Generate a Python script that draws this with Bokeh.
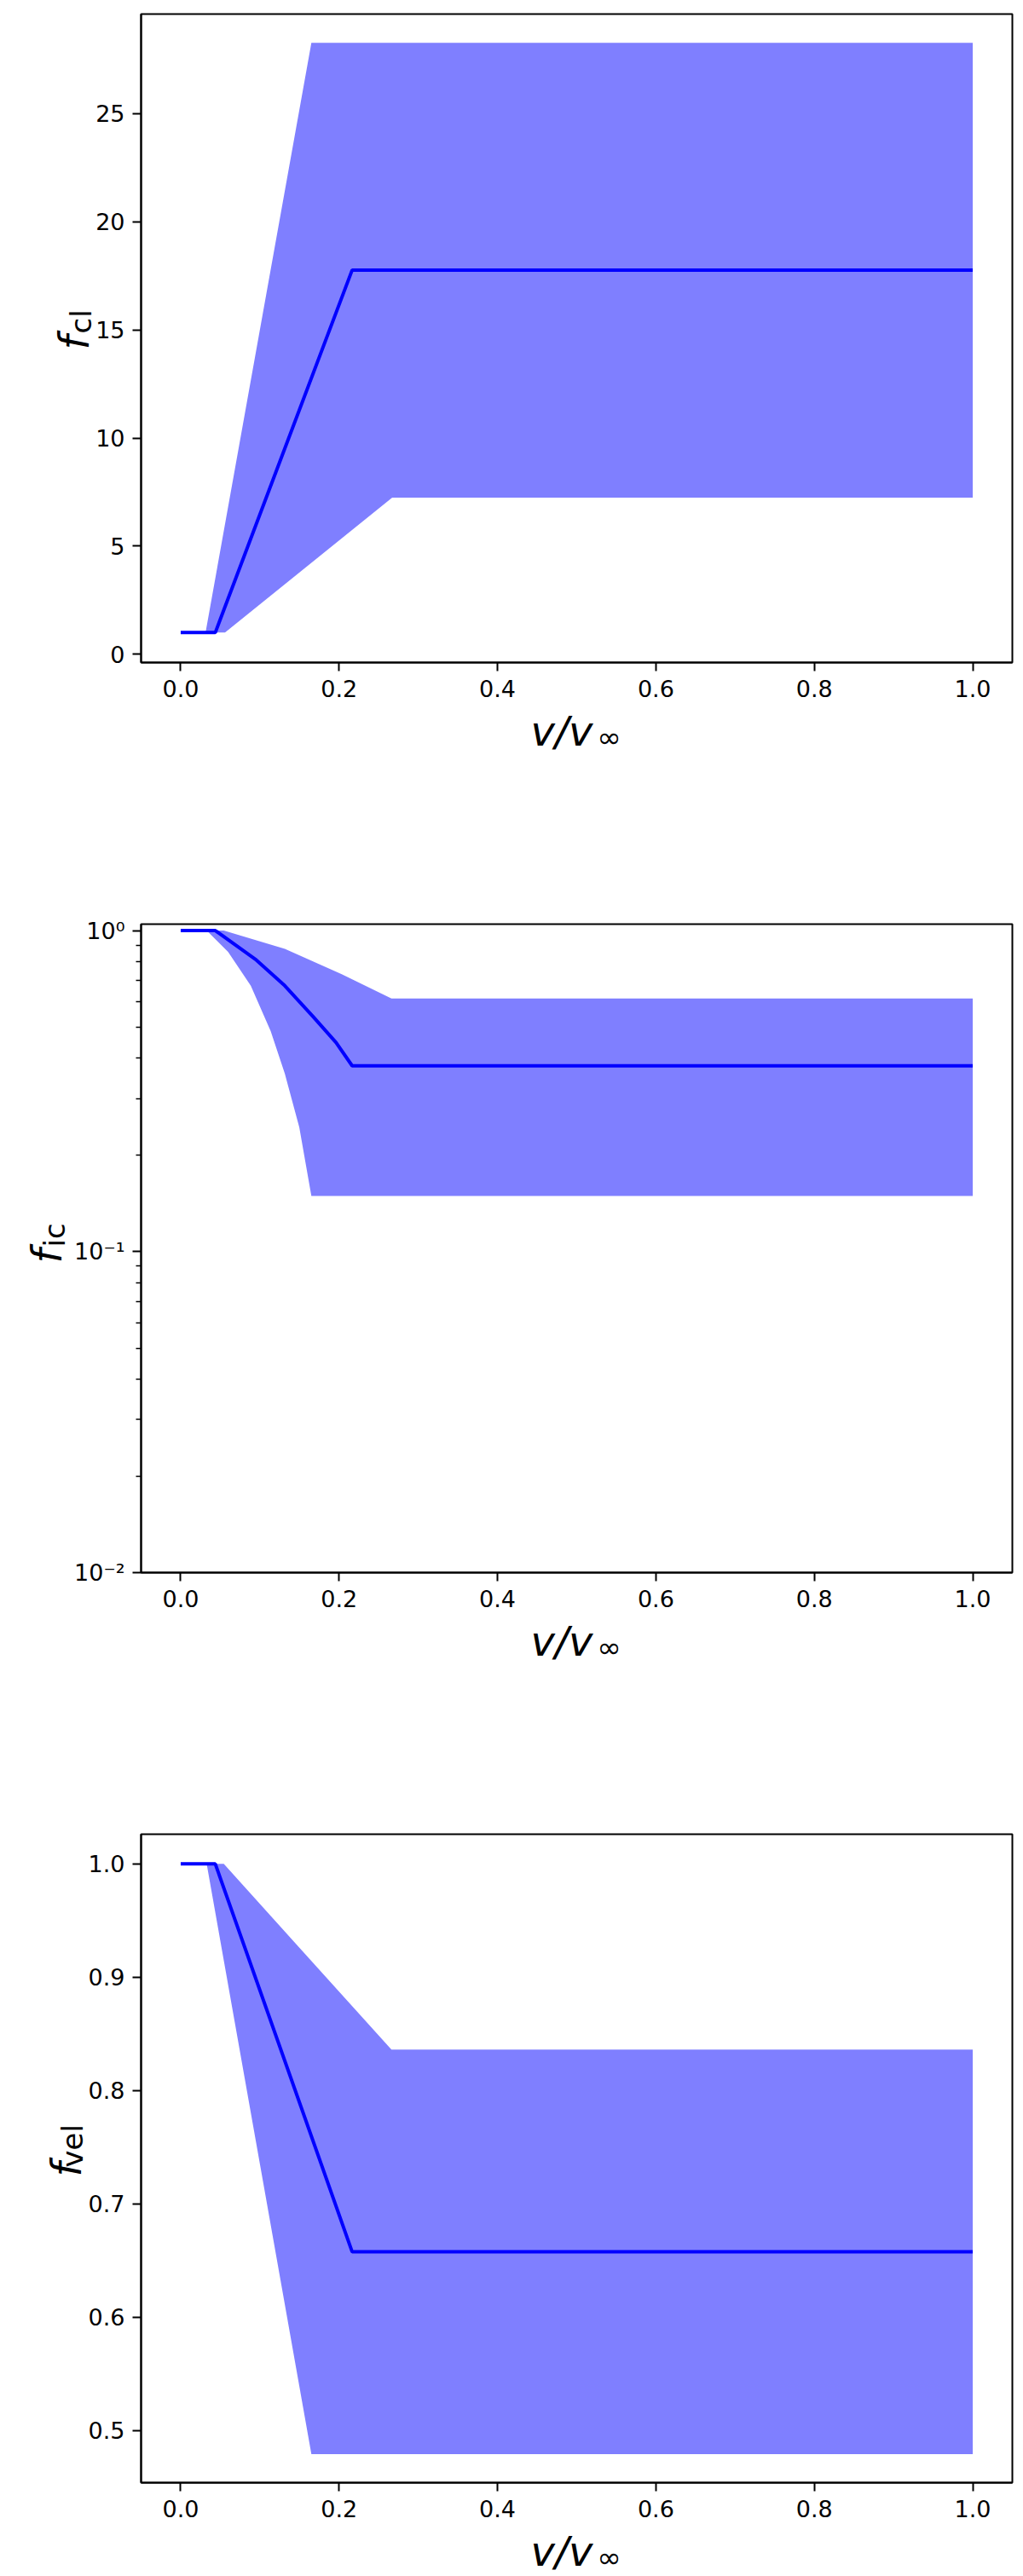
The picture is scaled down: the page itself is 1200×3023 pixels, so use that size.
from bokeh.plotting import figure
from bokeh.layouts import column
from bokeh.models import Range1d, FixedTicker, Label
from bokeh.embed import file_html
from bokeh.resources import INLINE

# ---------------- data ----------------
x_ticks = [0.0, 0.2, 0.4, 0.6, 0.8, 1.0]
x_tick_labels = ["0.0", "0.2", "0.4", "0.6", "0.8", "1.0"]

# panel 1: f_cl
cl_line_x = [0.0, 0.0437, 0.2165, 1.0]
cl_line_y = [1.0, 1.0, 17.77, 17.77]
cl_upper_x = [0.0, 0.0314, 0.165, 1.0]
cl_upper_y = [1.0, 1.0, 28.28, 28.28]
cl_lower_x = [0.0, 0.056, 0.267, 1.0]
cl_lower_y = [1.0, 1.0, 7.24, 7.24]
cl_ticks = [0, 5, 10, 15, 20, 25]
cl_tick_labels = ["0", "5", "10", "15", "20", "25"]

# panel 2: f_ic (log axis)
ic_line_x = [0.0, 0.0437, 0.0956, 0.1315, 0.1675, 0.1961, 0.2165, 1.0]
ic_line_y = [1.0, 1.0, 0.809, 0.673, 0.538, 0.448, 0.379, 0.379]
ic_upper_x = [0.0, 0.0544, 0.1315, 0.2033, 0.2661, 1.0]
ic_upper_y = [1.0, 1.0, 0.877, 0.731, 0.614, 0.614]
ic_lower_x = [0.0, 0.0328, 0.0598, 0.0885, 0.1136, 0.1315, 0.1497, 0.165, 1.0]
ic_lower_y = [1.0, 1.0, 0.859, 0.673, 0.486, 0.358, 0.244, 0.149, 0.149]
ic_ticks = [0.01, 0.1, 1.0]
ic_tick_labels = ["10\u207b\u00b2", "10\u207b\u00b9", "10\u2070"]
ic_minor = [0.02, 0.03, 0.04, 0.05, 0.06, 0.07, 0.08, 0.09,
            0.2, 0.3, 0.4, 0.5, 0.6, 0.7, 0.8, 0.9]

# panel 3: f_vel
vel_line_x = [0.0, 0.0437, 0.2165, 1.0]
vel_line_y = [1.0, 1.0, 0.6576, 0.6576]
vel_upper_x = [0.0, 0.0544, 0.2661, 1.0]
vel_upper_y = [1.0, 1.0, 0.836, 0.836]
vel_lower_x = [0.0, 0.0328, 0.165, 1.0]
vel_lower_y = [1.0, 1.0, 0.479, 0.479]
vel_ticks = [0.5, 0.6, 0.7, 0.8, 0.9, 1.0]
vel_tick_labels = ["0.5", "0.6", "0.7", "0.8", "0.9", "1.0"]

FONT = "DejaVu Sans"
W = 1192
# assumed side-panel row sizes (px)
ROW = dict(xaxis=51, vv=56, inf=40, f=17, cl=28, ic=28, vel=50)


def base_panel(height, b_top, b_bottom, y_range, y_axis_type, line_x, line_y,
               up_x, up_y, lo_x, lo_y, yticks, ylabels, minor=None):
    p = figure(width=W, height=height, output_backend="svg",
               toolbar_location=None, y_axis_type=y_axis_type,
               x_range=Range1d(-0.05, 1.05), y_range=y_range,
               min_border_left=165, min_border_right=5,
               min_border_top=b_top, min_border_bottom=b_bottom)
    p.xgrid.visible = False
    p.ygrid.visible = False
    p.outline_line_color = "black"
    p.outline_line_width = 2
    p.background_fill_color = "white"
    p.border_fill_color = "white"

    xs = up_x + lo_x[::-1]
    ys = up_y + lo_y[::-1]
    p.patch(xs, ys, fill_color="blue", fill_alpha=0.5, line_color=None)
    p.line(line_x, line_y, line_color="blue", line_width=4)

    p.xaxis.ticker = FixedTicker(ticks=x_ticks)
    p.xaxis.major_label_overrides = dict(zip(x_ticks, x_tick_labels))
    if minor is not None:
        p.yaxis.ticker = FixedTicker(ticks=yticks, minor_ticks=minor)
    else:
        p.yaxis.ticker = FixedTicker(ticks=yticks)
    p.yaxis.major_label_overrides = dict(zip(yticks, ylabels))

    for ax in (p.xaxis, p.yaxis):
        ax.axis_line_color = "black"
        ax.axis_line_width = 2
        ax.major_tick_line_color = "black"
        ax.major_tick_line_width = 2
        ax.major_tick_out = 10
        ax.major_tick_in = 0
        ax.minor_tick_out = 6
        ax.minor_tick_in = 0
        ax.minor_tick_line_width = 1.5
        ax.major_label_text_font = FONT
        ax.major_label_text_font_size = "27px"
        ax.major_label_text_color = "black"
    p.xaxis.minor_tick_line_color = None
    p.yaxis.minor_tick_line_color = "black" if minor is not None else None
    p.xaxis.major_label_standoff = 10
    p.yaxis.major_label_standoff = 9
    return p


def lab(text, x, y, size, italic=False, rotate=False):
    return Label(x=x, y=y, x_units="screen", y_units="screen", text=text,
                 text_font=FONT, text_font_style="italic" if italic else "normal",
                 text_font_size=size, text_color="black",
                 angle=1.5708 if rotate else 0.0,
                 text_baseline="alphabetic", text_align="left")


# page geometry of the frames (screenshot coordinates)
FT = [16, 1084, 2152]
FB = [777, 1845, 2913]
VV_X, INF_X = 457, 535
VV_DY, INF_DY = 88, 95           # baselines below frame bottom
VV_DY3, INF_DY3 = 80, 87         # bottom panel: keep the label inside the page

# ---- panel 1 ----
p1 = base_panel(1007, 16, 230, Range1d(-0.386, 29.61), "linear",
                cl_line_x, cl_line_y, cl_upper_x, cl_upper_y, cl_lower_x, cl_lower_y,
                cl_ticks, cl_tick_labels)
b = FB[0] + ROW["xaxis"] + ROW["vv"]
p1.add_layout(lab("v/v", VV_X, b - (FB[0] + VV_DY), "48px", italic=True), "below")
b += ROW["inf"]
p1.add_layout(lab("\u221e", INF_X, b - (FB[0] + INF_DY), "34px"), "below")
b += ROW["f"]
p1.add_layout(lab("f", -78.6, b - 418, "48px", italic=True, rotate=True), "below")
b += ROW["cl"]
p1.add_layout(lab("cl", -70.6, b - 399, "34px", rotate=True), "below")

# ---- panel 2 ----
p2 = base_panel(993, 77, 155, Range1d(0.01, 1.047), "log",
                ic_line_x, ic_line_y, ic_upper_x, ic_upper_y, ic_lower_x, ic_lower_y,
                ic_ticks, ic_tick_labels, minor=ic_minor)
b = FT[1]
p2.add_layout(lab("f", -110.6, b - 1482, "48px", italic=True, rotate=True), "above")
b -= ROW["f"]
p2.add_layout(lab("ic", -101.6, b - 1463, "34px", rotate=True), "above")
b = FB[1] + ROW["xaxis"] + ROW["vv"]
p2.add_layout(lab("v/v", VV_X, b - (FB[1] + VV_DY), "48px", italic=True), "below")
b += ROW["inf"]
p2.add_layout(lab("\u221e", INF_X, b - (FB[1] + INF_DY), "34px"), "below")

# ---- panel 3 ----
p3 = base_panel(1020, 152, 107, Range1d(0.4538, 1.0262), "linear",
                vel_line_x, vel_line_y, vel_upper_x, vel_upper_y, vel_lower_x, vel_lower_y,
                vel_ticks, vel_tick_labels)
b = FT[2]
p3.add_layout(lab("v/v", VV_X, b - (FB[2] + VV_DY3), "48px", italic=True), "above")
b -= ROW["vv"]
p3.add_layout(lab("\u221e", INF_X, b - (FB[2] + INF_DY3), "34px"), "above")
b -= ROW["inf"]
p3.add_layout(lab("vel", -80.6, b - 2543, "34px", rotate=True), "above")
b = FB[2] + ROW["xaxis"] + ROW["f"]
p3.add_layout(lab("f", -87.6, b - 2562, "48px", italic=True, rotate=True), "below")

layout = column(p1, p2, p3)
open("out.html", "w").write(file_html(layout, INLINE))
